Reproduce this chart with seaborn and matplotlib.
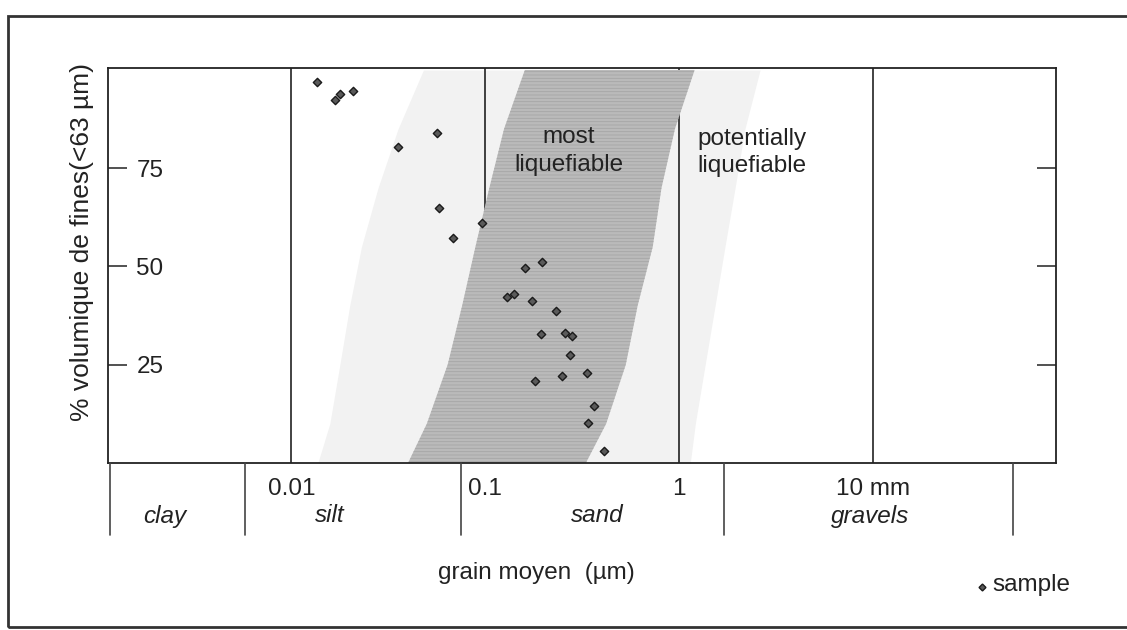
import numpy as np
import pandas as pd
import matplotlib
matplotlib.use("Agg")
import matplotlib.pyplot as plt
import matplotlib.ticker as mticker
from matplotlib.lines import Line2D
from matplotlib.patches import Rectangle
import seaborn as sns

# ---------------- data ----------------
grain_mm = [0.0135, 0.0169, 0.0178, 0.0207, 0.0354, 0.0564, 0.0578, 0.068, 0.096,
            0.197, 0.161, 0.129, 0.141, 0.175, 0.231, 0.193, 0.257, 0.281, 0.272,
            0.333, 0.249, 0.180, 0.364, 0.339, 0.408]
fines_pct = [96.9, 92.3, 94.0, 94.6, 80.3, 83.9, 65.0, 57.3, 61.1,
             51.2, 49.6, 42.3, 43.0, 41.1, 38.6, 32.8, 33.2, 32.3, 27.6,
             23.0, 22.1, 20.9, 14.4, 10.2, 3.0]

band_levels = [0, 10, 25, 40, 55, 70, 85, 100]
most_left = [0.040, 0.050, 0.064, 0.076, 0.089, 0.105, 0.125, 0.160]
most_right = [0.33, 0.42, 0.53, 0.61, 0.73, 0.81, 0.95, 1.2]
pot_left = [0.0137, 0.0158, 0.0178, 0.020, 0.023, 0.028, 0.0355, 0.048]
pot_right = [1.14, 1.21, 1.36, 1.53, 1.72, 1.94, 2.18, 2.61]

x_ticks = [0.01, 0.1, 1, 10]
x_tick_labels = ["0.01", "0.1", "1", "10 mm"]
y_ticks = [25, 50, 75]
y_tick_labels = ["25", "50", "75"]

classes = ["clay", "silt", "sand", "gravels"]
class_x = [0.00223, 0.0158, 0.38, 9.6]

# ---------------- style ----------------
sns.set_theme(style="white")
plt.rcParams["font.family"] = ["Liberation Sans", "DejaVu Sans"]
FS = 17.5
INK = "#222222"

W, H = 1127, 630
fig = plt.figure(figsize=(W / 100, H / 100), dpi=100)
fig.patch.set_facecolor("white")

def fx(px):
    return px / W

def fy(py):
    return 1 - py / H

ax = fig.add_axes([fx(108), fy(463), fx(1056) - fx(108), fy(68) - fy(463)])
ax.set_facecolor("white")
ax.set_xscale("log")
ax.set_xlim(0.001136, 87.5)
ax.set_ylim(0, 100.5)

# bands
ax.fill_betweenx(band_levels, pot_left, pot_right, color="#f2f2f2", lw=0, zorder=0)
plt.rcParams["hatch.linewidth"] = 0.6
ax.fill_betweenx(band_levels, most_left, most_right, facecolor="#bababa",
                 edgecolor="#a6a6a6", hatch="-----", lw=0, zorder=1)

# grid lines at decades
ax.set_xticks(x_ticks)
ax.set_xticklabels(x_tick_labels, fontsize=FS, color=INK)
ax.xaxis.set_minor_locator(mticker.NullLocator())
ax.grid(axis="x", which="major", color=INK, lw=1.2, zorder=2)
ax.grid(axis="y", visible=False)
ax.tick_params(axis="x", length=0, pad=11)

ax.set_yticks(y_ticks)
ax.set_yticklabels(y_tick_labels, fontsize=FS, color=INK)
ax.tick_params(axis="y", which="major", direction="in", length=14, width=1.1,
               color=INK, left=True, right=True, pad=-40)

for s in ax.spines.values():
    s.set_color(INK)
    s.set_linewidth(1.3)

df = pd.DataFrame({"grain": grain_mm, "fines": fines_pct})
sns.scatterplot(data=df, x="grain", y="fines", ax=ax, marker="D", s=18,
                color="#5a5a5a", edgecolor="#1a1a1a", linewidth=1.0, zorder=5,
                legend=False)

ax.text(0.27, 79.4, "most\nliquefiable", ha="center", va="center", fontsize=FS,
        color=INK, linespacing=1.35, zorder=6)
ax.text(1.235, 79.0, "potentially\nliquefiable", ha="left", va="center", fontsize=FS,
        color=INK, linespacing=1.35, zorder=6)

ax.set_xlabel("grain moyen  (µm)", fontsize=FS, color=INK)
ax.xaxis.set_label_coords(0.4515, -0.25)
ax.set_ylabel("% volumique de fines(<63 µm)", fontsize=19, color=INK)
ax.yaxis.set_label_coords(-0.015, 0.56)

# class table below the axis
trans = matplotlib.transforms.blended_transform_factory(ax.transData, fig.transFigure)
for name, cx in zip(classes, class_x):
    ax.text(cx, fy(516), name, transform=trans, ha="center", va="center",
            fontsize=FS, style="italic", color=INK)

for px in [110, 245, 461, 724, 1013]:
    fig.add_artist(Line2D([fx(px), fx(px)], [fy(463), fy(535)], color="#444444",
                          lw=1.2, transform=fig.transFigure))

# legend
fig.add_artist(Line2D([fx(982)], [fy(587)], marker="D", markersize=3.5,
                      color="#5a5a5a", markeredgecolor="#1a1a1a", ls="none",
                      transform=fig.transFigure))
fig.text(fx(992), fy(585), "sample", ha="left", va="center", fontsize=FS, color=INK)

# outer frame
fig.add_artist(Rectangle((fx(8), fy(627)), 1.2, fy(16) - fy(627), fill=False,
                         edgecolor="#333333", lw=2, transform=fig.transFigure,
                         clip_on=False))

fig.savefig("out.png", dpi=100, facecolor="white")
